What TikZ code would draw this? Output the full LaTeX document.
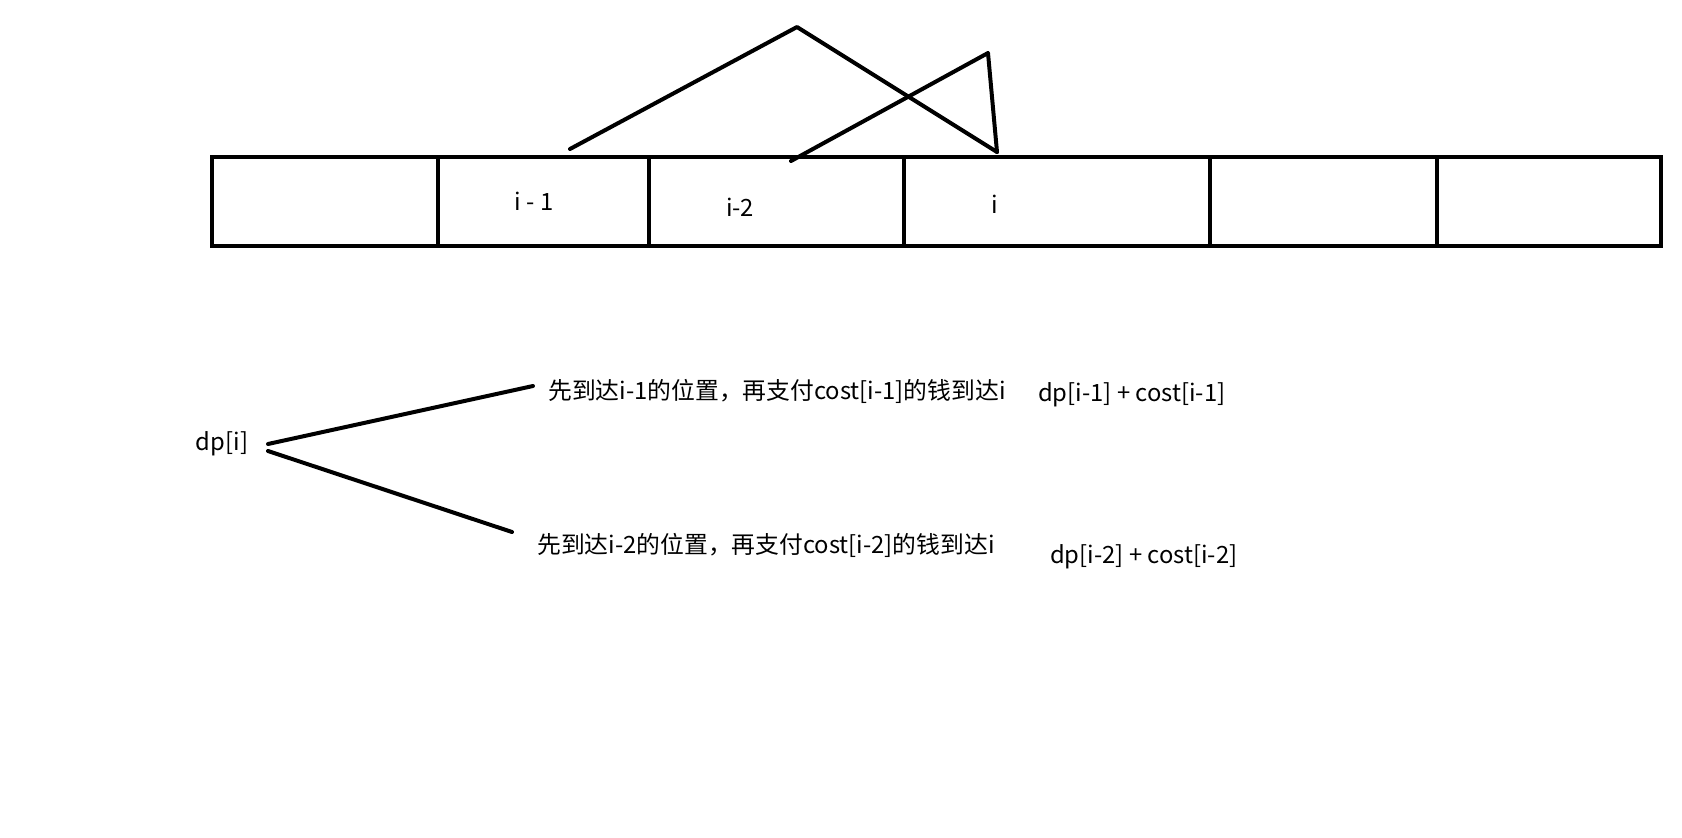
\documentclass[tikz,border=0pt]{standalone}
\usepackage{fontspec}
\setmainfont{Noto Sans CJK SC}
\begin{document}
\begin{tikzpicture}[x=1pt,y=-1pt,
  cell/.style={draw, line width=4.5pt, inner sep=0pt, outer sep=0pt, minimum height=89pt, anchor=north west},
  lbl/.style={inner sep=0pt, font=\fontsize{23.8}{28}\selectfont},
  stroke/.style={line width=4pt, line cap=round, line join=round}]
\useasboundingbox (0,0) rectangle (1682,838);
% cells
\node[cell, minimum width=226pt] (c1) at (212,157) {};
\node[cell, minimum width=211pt] (c2) at (438,157) {};
\node[cell, minimum width=255pt] (c3) at (649,157) {};
\node[cell, minimum width=306pt] (c4) at (904,157) {};
\node[cell, minimum width=227pt] (c5) at (1210,157) {};
\node[cell, minimum width=224pt] (c6) at (1437,157) {};
% cell labels
\node[lbl] (l1) at (534,201) {i - 1};
\node[lbl] (l2) at (740,207) {i-2};
\node[lbl] (l3) at (995,204) {i};
% jump strokes
\coordinate (a1) at (570,149);
\coordinate (a2) at (797,27);
\coordinate (a3) at (997,152);
\coordinate (b1) at (791,161);
\coordinate (b2) at (988,53);
\draw[stroke] (a1) -- (a2) -- (a3);
\draw[stroke] (b1) -- (b2) -- (a3);
% recurrence
\node[lbl] (dp) at (222,444) {dp[i]};
\coordinate (d0) at (268,444);
\coordinate (d1) at (268,451);
\node[lbl, anchor=west] (t1) at (548,391) {先到达i-1的位置，再支付cost[i-1]的钱到达i};
\node[lbl, anchor=west] (t2) at (537,545) {先到达i-2的位置，再支付cost[i-2]的钱到达i};
\node[lbl, anchor=west] (f1) at (1038,395) {dp[i-1] + cost[i-1]};
\node[lbl, anchor=west] (f2) at (1050,557) {dp[i-2] + cost[i-2]};
\coordinate (e1) at (533,386);
\coordinate (e2) at (512,532);
\draw[stroke] (d0) -- (e1);
\draw[stroke] (d1) -- (e2);
\end{tikzpicture}
\end{document}
